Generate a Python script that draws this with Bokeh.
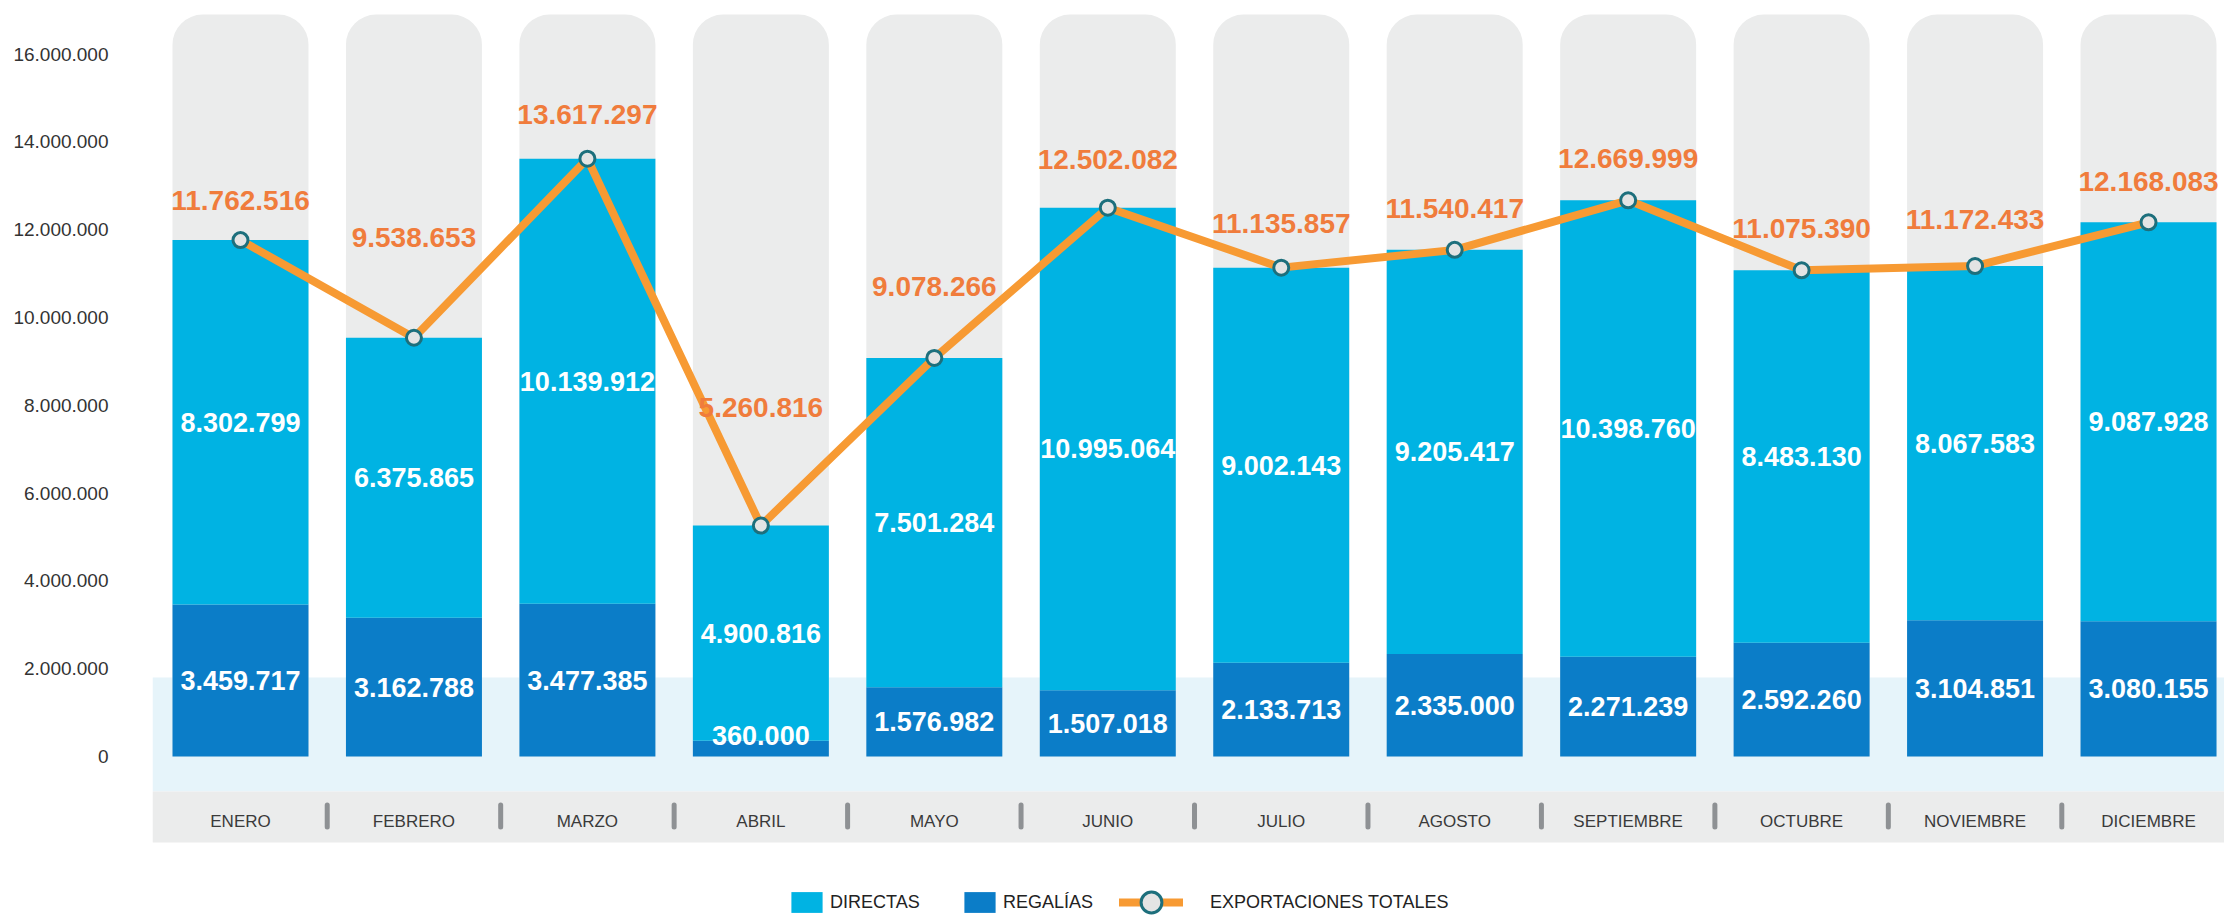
from bokeh.plotting import figure
from bokeh.models import (ColumnDataSource, Range1d, FixedTicker, BoxAnnotation,
                          Legend, LegendItem)
from bokeh.core.properties import value
from bokeh.embed import file_html
from bokeh.resources import INLINE

# ---------------- data ----------------
months = ["ENERO", "FEBRERO", "MARZO", "ABRIL", "MAYO", "JUNIO", "JULIO",
          "AGOSTO", "SEPTIEMBRE", "OCTUBRE", "NOVIEMBRE", "DICIEMBRE"]
directas = [8302799, 6375865, 10139912, 4900816, 7501284, 10995064,
            9002143, 9205417, 10398760, 8483130, 8067583, 9087928]
regalias = [3459717, 3162788, 3477385, 360000, 1576982, 1507018,
            2133713, 2335000, 2271239, 2592260, 3104851, 3080155]
totales = [11762516, 9538653, 13617297, 5260816, 9078266, 12502082,
           11135857, 11540417, 12669999, 11075390, 11172433, 12168083]
y_ticks = [0, 2000000, 4000000, 6000000, 8000000, 10000000, 12000000,
           14000000, 16000000]

# ---------------- styling ----------------
label_lift_px = [40, 100, 44, 118, 71, 48, 44, 41, 42, 42, 47, 41]
FONT = "Liberation Sans"
C_DIR = "#00b3e3"
C_REG = "#0b7dc8"
C_LINE = "#f79a33"
C_LABEL = "#f07c3c"
C_BG = "#ebecec"
C_BAND = "#e6f4fa"
C_SEP = "#8e9194"


def fmt(v):
    return f"{v:,}".replace(",", ".")


idx = list(range(len(months)))
src = ColumnDataSource(dict(
    x=idx,
    month=months,
    directas=directas,
    regalias=regalias,
    top=[r + d for r, d in zip(regalias, directas)],
    total=totales,
    total_lbl=[fmt(v) for v in totales],
    dir_lbl=[fmt(v) for v in directas],
    reg_lbl=[fmt(v) for v in regalias],
    dir_y=[r + d / 2 for r, d in zip(regalias, directas)],
    reg_y=[max(r / 2, 480000) for r in regalias],
    lift=[-v for v in label_lift_px],
    bg_top=[16900000] * len(months),
))

sep_src = ColumnDataSource(dict(
    x=[i + 0.5 for i in idx[:-1]],
    y0=[-1105000] * (len(months) - 1),
    y1=[-1606000] * (len(months) - 1),
))

p = figure(width=2224, height=916, output_backend="svg", toolbar_location=None,
           x_range=Range1d(-0.5073, 11.438), y_range=Range1d(-3645000, 17221000),
           min_border_left=152, min_border_right=0, min_border_top=0,
           min_border_bottom=0)
p.outline_line_color = None
p.xgrid.visible = False
p.ygrid.visible = False
p.background_fill_color = "white"

# bands
p.add_layout(BoxAnnotation(bottom=-797000, top=1800000, fill_color=C_BAND,
                           fill_alpha=1, line_color=None, level="underlay"))
p.add_layout(BoxAnnotation(bottom=-1959000, top=-797000, fill_color=C_BG,
                           fill_alpha=1, line_color=None, level="underlay"))

# background rounded bars
p.vbar(x="x", bottom=0, top="bg_top", width=0.784, source=src,
       fill_color=C_BG, line_color=None, border_radius=(30, 30, 0, 0))

# stacked bars
r_reg = p.vbar(x="x", bottom=0, top="regalias", width=0.784, source=src,
               fill_color=C_REG, line_color=None)
r_dir = p.vbar(x="x", bottom="regalias", top="top", width=0.784, source=src,
               fill_color=C_DIR, line_color=None)

# separators on x band
p.segment(x0="x", y0="y0", x1="x", y1="y1", source=sep_src, line_color=C_SEP,
          line_width=5, line_cap="round")

# line + markers
r_line = p.line(x="x", y="total", source=src, line_color=C_LINE, line_width=8,
                line_join="round", line_cap="round")
r_pts = p.scatter(x="x", y="total", source=src, size=15, marker="circle",
                  fill_color="#e4e4e4", line_color="#1d6f7c", line_width=3)

# labels
p.text(x="x", y="total", text="total_lbl", source=src, y_offset="lift",
       text_align="center", text_baseline="middle", text_color=C_LABEL,
       text_font=value(FONT), text_font_style="bold", text_font_size="28px")
p.text(x="x", y="dir_y", text="dir_lbl", source=src,
       text_align="center", text_baseline="middle", text_color="white",
       text_font=value(FONT), text_font_style="bold", text_font_size="27px")
p.text(x="x", y="reg_y", text="reg_lbl", source=src,
       text_align="center", text_baseline="middle", text_color="white",
       text_font=value(FONT), text_font_style="bold", text_font_size="27px")

# axes
p.yaxis.ticker = FixedTicker(ticks=y_ticks)
p.yaxis.major_label_overrides = {t: fmt(t) for t in y_ticks}
p.yaxis.axis_line_color = None
p.yaxis.major_tick_line_color = None
p.yaxis.minor_tick_line_color = None
p.yaxis.major_label_standoff = 38
p.yaxis.major_label_text_font = FONT
p.yaxis.major_label_text_font_size = "19px"
p.yaxis.major_label_text_color = "#333333"

p.xaxis.fixed_location = -1002000
p.xaxis.ticker = FixedTicker(ticks=idx)
p.xaxis.major_label_overrides = {i: m for i, m in zip(idx, months)}
p.xaxis.axis_line_color = None
p.xaxis.major_tick_line_color = None
p.xaxis.minor_tick_line_color = None
p.xaxis.major_label_standoff = 6
p.xaxis.major_label_text_font = FONT
p.xaxis.major_label_text_font_size = "17px"
p.xaxis.major_label_text_color = "#3a3a3a"


def make_legend(label, renderers, x, y, gw, gh, standoff):
    leg = Legend(items=[LegendItem(label=label, renderers=renderers)],
                 location=(x, y), orientation="horizontal",
                 glyph_width=gw, glyph_height=gh, label_standoff=standoff,
                 padding=0, margin=0, spacing=0, border_line_color=None,
                 background_fill_alpha=0, label_text_font=FONT,
                 label_text_font_size="18px", label_text_color="#222222",
                 label_height=20)
    p.add_layout(leg, "center")


make_legend("DIRECTAS", [r_dir], 635, 1, 39, 26, 4)
make_legend("REGALÍAS", [r_reg], 808, 1, 39, 26, 4)
make_legend("EXPORTACIONES TOTALES", [r_line, r_pts], 967, -12, 64, 52, 27)

open("out.html", "w").write(file_html(p, INLINE))
